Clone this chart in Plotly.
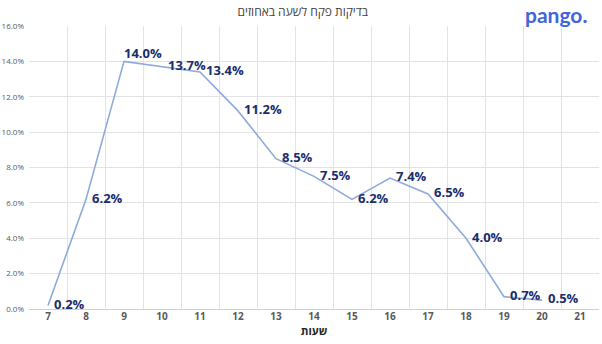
import plotly.graph_objects as go

# Share of inspector checks by hour of day
hours = [7, 8, 9, 10, 11, 12, 13, 14, 15, 16, 17, 18, 19, 20]
share_pct = [0.2, 6.2, 14.0, 13.7, 13.4, 11.2, 8.5, 7.5, 6.2, 7.4, 6.5, 4.0, 0.7, 0.5]
axis_hours = [str(h) for h in range(7, 22)]
y_ticks = [0, 2, 4, 6, 8, 10, 12, 14, 16]

title_text = "בדיקות פקח לשעה באחוזים"
x_title = "שעות"
brand = "pango."

label_pos = ["middle right"] * len(hours)
label_pos[hours.index(9)] = "top right"
# transparent markers only set the gap between a point and its label
gap_sizes = [8] * len(hours)
gap_sizes[hours.index(9)] = 0

fig = go.Figure()
fig.add_trace(go.Scatter(
    x=[str(h) for h in hours],
    y=[v / 100 for v in share_pct],
    mode="lines+markers+text",
    line=dict(color="#8EA9DB", width=1.6),
    marker=dict(size=gap_sizes, color="rgba(0,0,0,0)",
                line=dict(width=0, color="rgba(0,0,0,0)")),
    text=[f"{v:.1f}%" for v in share_pct],
    textposition=label_pos,
    textfont=dict(family="Open Sans", size=13, color="#1A2C6B", weight="bold"),
    cliponaxis=False,
    hoverinfo="skip",
    showlegend=False,
))

fig.update_layout(
    width=602,
    height=344,
    margin=dict(l=29, r=3, t=26, b=35),
    paper_bgcolor="white",
    plot_bgcolor="white",
    title=dict(
        text=title_text,
        x=0.503, xanchor="center",
        y=0.965, yanchor="middle",
        font=dict(family="Open Sans", size=12, color="#3F3F3F"),
    ),
    xaxis=dict(
        type="category",
        categoryorder="array",
        categoryarray=axis_hours,
        tickvals=axis_hours,
        range=[-0.5, len(axis_hours) - 0.5],
        tickson="boundaries",
        showgrid=True,
        gridcolor="#E3E3E3",
        gridwidth=1,
        ticks="",
        tickfont=dict(family="Open Sans", size=10, color="#595959", weight="bold"),
        title=dict(text=x_title, standoff=4,
                   font=dict(family="Open Sans", size=11, color="#262626", weight="bold")),
        fixedrange=True,
    ),
    yaxis=dict(
        range=[0, 0.16],
        tickvals=[t / 100 for t in y_ticks],
        tickformat=".1%",
        showgrid=True,
        gridcolor="#E3E3E3",
        gridwidth=1,
        zeroline=True,
        zerolinecolor="#D0D0D0",
        zerolinewidth=1,
        ticks="",
        ticklabelstandoff=4,
        tickfont=dict(family="Open Sans", size=8, color="#595959"),
        fixedrange=True,
    ),
)

fig.add_annotation(
    text=brand,
    xref="paper", yref="paper",
    x=0.982, y=1.0, xanchor="right", yanchor="bottom",
    yshift=-3,
    showarrow=False,
    font=dict(family="Lato", size=21, color="#4263E0", weight="bold"),
)

fig.write_html("out.html")
